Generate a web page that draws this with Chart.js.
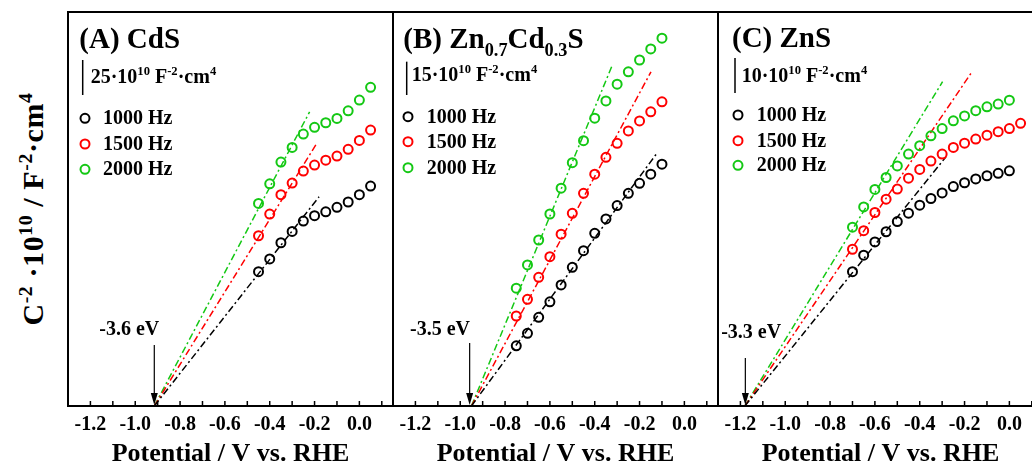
<!DOCTYPE html>
<html><head><meta charset="utf-8">
<script src="https://cdn.jsdelivr.net/npm/chart.js@4.4.0/dist/chart.umd.min.js"></script>
<style>
html,body{margin:0;padding:0;background:#fff;overflow:hidden;}
#wrap{position:relative;width:1032px;height:467px;overflow:hidden;background:#fff;}
canvas{position:absolute;top:0;}
#ytitle{position:absolute;left:33px;top:209px;transform:translate(-50%,-50%) rotate(-90deg);font:bold 30px "Liberation Serif",serif;white-space:nowrap;color:#000;letter-spacing:0.6px;}
#ytitle sup{font-size:0.66em;vertical-align:0.55em;line-height:0;}
</style></head>
<body><div id="wrap">
<div id="ytitle">C<sup>-2</sup> ·10<sup>10</sup> / F<sup>-2</sup>·cm<sup>4</sup></div>
<canvas id="cA" width="400" height="467" style="left:0px"></canvas>
<canvas id="cB" width="400" height="467" style="left:325px"></canvas>
<canvas id="cC" width="400" height="467" style="left:650px"></canvas>
</div>
<script>
// ---------- data (C^-2 in 10^10 F^-2 cm^4, potential in V vs RHE) ----------
const freqs = ['1000 Hz', '1500 Hz', '2000 Hz'];
const colors = ['#000000', '#ff0000', '#14c814'];

const xA = [-0.45, -0.40, -0.35, -0.30, -0.25, -0.20, -0.15, -0.10, -0.05, 0.00, 0.05];
const a1000 = [95.9, 105.0, 116.6, 124.7, 132.1, 135.9, 138.7, 141.9, 145.7, 150.9, 157.1];
const a1500 = [121.6, 137.1, 150.9, 159.2, 167.8, 172.1, 175.6, 178.5, 183.3, 189.7, 197.1];
const a2000 = [144.7, 158.7, 174.2, 184.7, 194.2, 199.0, 202.3, 205.4, 210.8, 218.5, 227.6];
const fitA1000 = [[-0.915, 0], [-0.18, 149.4]];
const fitA1500 = [[-0.915, 0], [-0.19, 187.6]];
const fitA2000 = [[-0.915, 0], [-0.222, 210.1]];

const xB = [-0.75, -0.70, -0.65, -0.60, -0.55, -0.50, -0.45, -0.40, -0.35, -0.30, -0.25, -0.20, -0.15, -0.10];
const b1000 = [27.1, 32.7, 39.9, 46.9, 54.5, 62.4, 69.9, 77.7, 84.2, 90.2, 95.7, 100.2, 104.3, 108.8];
const b1500 = [40.5, 48.0, 57.9, 67.2, 77.3, 86.7, 95.7, 104.3, 111.9, 118.2, 123.8, 128.3, 132.4, 136.9];
const b2000 = [53.0, 63.5, 74.7, 86.4, 98.0, 109.5, 119.4, 129.5, 137.3, 144.8, 150.4, 155.7, 160.7, 165.5];
const fitB1000 = [[-0.95, 0], [-0.12, 114.1]];
const fitB1500 = [[-0.95, 0], [-0.149, 150.4]];
const fitB2000 = [[-0.95, 0], [-0.321, 153.5]];

const xC = [-0.70, -0.65, -0.60, -0.55, -0.50, -0.45, -0.40, -0.35, -0.30, -0.25, -0.20, -0.15, -0.10, -0.05, 0.00];
const xC1500 = [-0.70, -0.65, -0.60, -0.55, -0.50, -0.45, -0.40, -0.35, -0.30, -0.25, -0.20, -0.15, -0.10, -0.05, 0.00, 0.05];
const c1000 = [38.4, 43.1, 46.9, 49.8, 52.7, 55.1, 57.4, 59.3, 60.9, 62.7, 63.8, 64.9, 65.8, 66.5, 67.2];
const c1500 = [44.8, 50.1, 55.3, 59.1, 62.0, 65.1, 67.6, 70.0, 72.0, 73.9, 75.1, 76.3, 77.4, 78.4, 79.3, 80.8];
const c2000 = [51.1, 56.9, 61.9, 65.3, 68.6, 72.0, 74.4, 77.2, 79.3, 81.5, 82.9, 84.4, 85.5, 86.3, 87.4];
const fitC1000 = [[-1.18, 0], [-0.283, 71.2]];
const fitC1500 = [[-1.18, 0], [-0.171, 95.1]];
const fitC2000 = [[-1.18, 0], [-0.298, 92.7]];

const yMaxes = [281.4, 177.3, 112.6];
const scaleBars = [25, 15, 10];
const flatbandX = [-0.915, -0.958, -1.178];
const bandLabels = ['-3.6 eV', '-3.5 eV', '-3.3 eV'];
const xMin = -1.3, xMax = 0.15;

// ---------- helpers ----------
const FONT = '"Liberation Serif", "Times New Roman", serif';
function pts(xs, ys) { return xs.map((x, i) => ({x: x, y: ys[i]})); }
function fit(p) { return p.map(q => ({x: q[0], y: q[1]})); }
function rich(ctx, x, y, parts, size) {
  let cx = x;
  ctx.textAlign = 'left'; ctx.textBaseline = 'alphabetic';
  for (const [t, m] of parts) {
    const s = m === 0 ? size : size * 0.63;
    ctx.font = 'bold ' + s + 'px ' + FONT;
    const dy = m === 1 ? -size * 0.4 : (m === -1 ? size * 0.26 : 0);
    ctx.fillText(t, cx, y + dy);
    cx += ctx.measureText(t).width;
  }
}

const decoPlugin = {
  id: 'deco',
  afterDatasetsDraw(chart) {
    const d = chart.options.plugins.deco;
    const ctx = chart.ctx, a = chart.chartArea;
    const xs = chart.scales.x, ys = chart.scales.y;
    ctx.save();
    ctx.fillStyle = '#000'; ctx.strokeStyle = '#000';
    // frame
    ctx.lineWidth = 2;
    ctx.strokeRect(a.left, a.top, a.right - a.left, a.bottom - a.top);
    // inward ticks
    ctx.lineWidth = 1.5;
    for (const t of xs.ticks) {
      const px = xs.getPixelForValue(t.value);
      if (px <= a.left + 1 || px >= a.right - 1) continue;
      ctx.beginPath(); ctx.moveTo(px, a.bottom); ctx.lineTo(px, a.bottom - 5); ctx.stroke();
    }
    const o = d.offset;
    // title
    rich(ctx, d.titleX - o, d.titleY, d.title, 29);
    // scale bar
    const len = ys.getPixelForValue(0) - ys.getPixelForValue(d.bar);
    ctx.lineWidth = 1.5;
    ctx.beginPath(); ctx.moveTo(d.barX - o, d.barBottom); ctx.lineTo(d.barX - o, d.barBottom - len); ctx.stroke();
    rich(ctx, d.barTextX - o, d.barTextY,
      [[d.bar + '·10', 0], ['10', 1], [' F', 0], ['-2', 1], ['·cm', 0], ['4', 1]], 20);
    // legend
    const sets = chart.data.datasets.filter(s => s.legend);
    sets.forEach((s, i) => {
      const y = d.legYs[i];
      ctx.strokeStyle = s.borderColor; ctx.lineWidth = 2;
      ctx.beginPath(); ctx.arc(d.legCx - o, y, 4.5, 0, Math.PI * 2); ctx.stroke();
      ctx.fillStyle = '#000';
      ctx.font = 'bold 20px ' + FONT; ctx.textAlign = 'left'; ctx.textBaseline = 'middle';
      ctx.fillText(s.label, d.legTx - o, y + 1);
    });
    // flat-band arrow
    const ax = xs.getPixelForValue(d.arrowX);
    ctx.strokeStyle = '#000'; ctx.fillStyle = '#000'; ctx.lineWidth = 1.2;
    ctx.beginPath(); ctx.moveTo(ax, d.arrowTop); ctx.lineTo(ax, a.bottom - 10); ctx.stroke();
    ctx.beginPath(); ctx.moveTo(ax - 3.5, a.bottom - 13); ctx.lineTo(ax + 3.5, a.bottom - 13); ctx.lineTo(ax, a.bottom - 1); ctx.closePath(); ctx.fill();
    ctx.font = 'bold 20px ' + FONT; ctx.textAlign = 'center'; ctx.textBaseline = 'alphabetic';
    ctx.fillText(d.arrowLabel, ax + d.labelDx, d.labelY);
    ctx.restore();
  }
};

function makeChart(id, idx, series, fits, deco) {
  const datasets = [];
  series.forEach((s, i) => {
    datasets.push({label: freqs[i], legend: true, data: s, showLine: false,
      borderColor: colors[i], backgroundColor: 'rgba(0,0,0,0)', pointRadius: 4.5, pointBorderWidth: 2,
      pointHoverRadius: 4.5});
  });
  fits.forEach((f, i) => {
    datasets.push({label: freqs[i] + ' fit', data: f, showLine: true, pointRadius: 0,
      borderColor: colors[i], borderWidth: 1.5, borderDash: [7, 3, 2, 3], fill: false});
  });
  deco.bar = scaleBars[idx];
  deco.arrowX = flatbandX[idx];
  deco.arrowLabel = bandLabels[idx];
  return new Chart(document.getElementById(id), {
    type: 'scatter',
    data: {datasets: datasets},
    options: {
      responsive: false, animation: false, events: [],
      layout: {padding: {left: 68, right: 7, top: 12, bottom: 0}},
      plugins: {legend: {display: false}, tooltip: {enabled: false}, deco: deco},
      scales: {
        x: {type: 'linear', min: xMin, max: xMax,
          afterFit: s => { s.height = 61; },
          grid: {display: false, drawTicks: false}, border: {display: false},
          ticks: {stepSize: 0.1, includeBounds: false, autoSkip: false, maxRotation: 0, padding: 7,
            color: '#000', font: {family: FONT, weight: 'bold', size: 20},
            callback: v => {
              const k = Math.round(v * 10);
              if (Math.abs(v * 10 - k) > 1e-6) return '';
              if (k % 2 !== 0) return '';
              return k === 0 ? '0.0' : (k / 10).toFixed(1);
            }},
          title: {display: true, text: 'Potential / V vs. RHE', color: '#000',
            font: {family: FONT, weight: 'bold', size: 26, lineHeight: 1}, padding: {top: 0, bottom: 0}}
        },
        y: {display: false, min: 0, max: yMaxes[idx]}
      }
    },
    plugins: [decoPlugin]
  });
}

makeChart('cA', 0, [pts(xA, a1000), pts(xA, a1500), pts(xA, a2000)],
  [fit(fitA1000), fit(fitA1500), fit(fitA2000)],
  {offset: 0, titleX: 79.3, titleY: 48, title: [['(A) CdS', 0]],
   barX: 82.7, barBottom: 95, barTextX: 90.7, barTextY: 83.3,
   legCx: 85, legTx: 103, legYs: [118.3, 144, 169.3],
   arrowTop: 345, labelDx: -25, labelY: 335});

makeChart('cB', 1, [pts(xB, b1000), pts(xB, b1500), pts(xB, b2000)],
  [fit(fitB1000), fit(fitB1500), fit(fitB2000)],
  {offset: 325, titleX: 403.3, titleY: 48, title: [['(B) Zn', 0], ['0.7', -1], ['Cd', 0], ['0.3', -1], ['S', 0]],
   barX: 406.7, barBottom: 95, barTextX: 411.7, barTextY: 81,
   legCx: 408, legTx: 426.7, legYs: [116.7, 141.7, 167.7],
   arrowTop: 343, labelDx: -29.7, labelY: 335});

makeChart('cC', 2, [pts(xC, c1000), pts(xC1500, c1500), pts(xC, c2000)],
  [fit(fitC1000), fit(fitC1500), fit(fitC2000)],
  {offset: 650, titleX: 732, titleY: 47, title: [['(C) ZnS', 0]],
   barX: 735, barBottom: 93, barTextX: 741.7, barTextY: 81.7,
   legCx: 738, legTx: 756.7, legYs: [115, 140.7, 165.3],
   arrowTop: 358, labelDx: 5.8, labelY: 338});
</script>
</body></html>
